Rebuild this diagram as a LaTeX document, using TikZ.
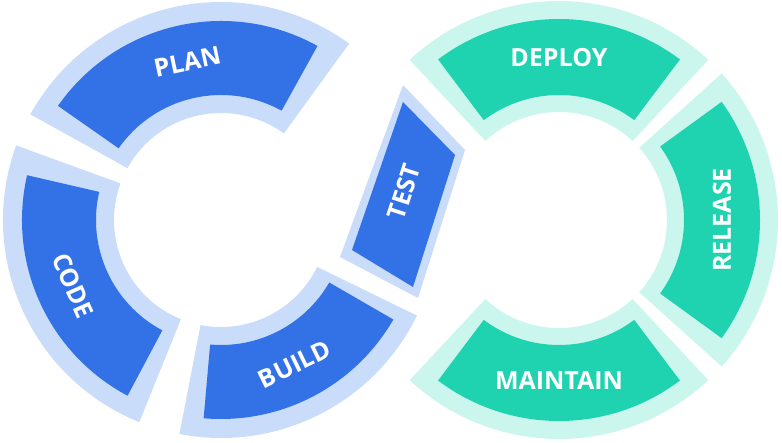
\documentclass[tikz,border=0pt]{standalone}
\usepackage{fontspec}
\setmainfont{Open Sans}
\usetikzlibrary{positioning,calc}

\definecolor{devblue}{HTML}{3371E6}
\definecolor{devbluelight}{HTML}{C9DCFA}
\definecolor{opsgreen}{HTML}{1FD3B1}
\definecolor{opsgreenlight}{HTML}{CBF6EE}

% center, start angle, end angle, inner r, outer r
\newcommand\ringpart[5]{%
  (#1) ++(#2:#4) -- ++(#2:#5-#4) arc[start angle=#2,end angle=#3,radius=#5]
  -- ++(#3:#4-#5) arc[start angle=#3,end angle=#2,radius=#4] -- cycle}

\begin{document}
\begin{tikzpicture}[x=1pt,y=1pt,
    stage/.style={text=white,font=\bfseries\fontsize{25}{25}\selectfont,inner sep=0pt},
    lightdev/.style={fill=devbluelight},
    darkdev/.style={fill=devblue},
    lightops/.style={fill=opsgreenlight},
    darkops/.style={fill=opsgreen}]
  \useasboundingbox (0,0) rectangle (782,442);
  \coordinate (dev) at (221,222);
  \coordinate (ops) at (559,222);

  % dev ring
  \fill[lightdev] \ringpart{dev}{54}{151}{107}{218};
  \fill[darkdev]  \ringpart{dev}{61}{145}{125}{199};
  \fill[lightdev] \ringpart{dev}{160}{248}{107}{218};
  \fill[darkdev]  \ringpart{dev}{167}{242}{125}{199};
  \fill[lightdev] \ringpart{dev}{259}{334}{107}{218};
  \fill[darkdev]  \ringpart{dev}{265}{330}{125}{199};
  % test piece
  \fill[lightdev] (403,357) -- (465,292) -- (418,144) -- (340,185) -- cycle;
  \fill[darkdev]  (403,340) -- (455,287) -- (413,155) -- (352,192) -- cycle;

  % ops ring
  \fill[lightops] \ringpart{ops}{47}{133}{108}{219};
  \fill[darkops]  \ringpart{ops}{53}{127}{125}{201};
  \fill[lightops] \ringpart{ops}{-42}{42}{108}{219};
  \fill[darkops]  \ringpart{ops}{-36}{36}{125}{201};
  \fill[lightops] \ringpart{ops}{-133}{-47}{108}{219};
  \fill[darkops]  \ringpart{ops}{-127}{-53}{125}{201};

  \node[stage,rotate=12]  (plan)    at ($(dev)+(102:162)$) {PLAN};
  \node[stage,rotate=-66] (code)    at ($(dev)+(204:162)$) {CODE};
  \node[stage,rotate=26]  (build)   at ($(dev)+(297:162)$) {BUILD};
  \node[stage,rotate=72]  (test)    at (404,250) {TEST};
  \node[stage]            (deploy)  at ($(ops)+(90:162)$) {DEPLOY};
  \node[stage,rotate=90]  (release) at ($(ops)+(0:163)$) {RELEASE};
  \node[stage]            (maintain) at ($(ops)+(-90:161)$) {MAINTAIN};
\end{tikzpicture}
\end{document}
